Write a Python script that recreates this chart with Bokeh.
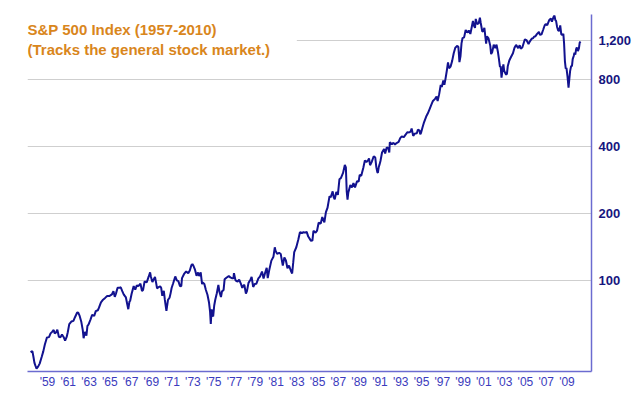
from bokeh.plotting import figure
from bokeh.models import FixedTicker, BoxAnnotation, Label, Range1d
from bokeh.embed import file_html
from bokeh.resources import INLINE

# S&P 500 monthly-ish closes (decimal year, index value)
years = [
    1957.37, 1957.55, 1957.65, 1957.75, 1957.85, 1957.95,
    1958.10, 1958.25, 1958.45, 1958.60, 1958.75, 1958.95,
    1959.15, 1959.30, 1959.45, 1959.60, 1959.70, 1959.85, 1959.95,
    1960.10, 1960.25, 1960.40, 1960.55, 1960.70, 1960.85, 1960.95,
    1961.10, 1961.30, 1961.50, 1961.65, 1961.85, 1961.95,
    1962.10, 1962.25, 1962.40, 1962.48, 1962.60, 1962.75, 1962.85, 1962.95,
    1963.15, 1963.30, 1963.50, 1963.65, 1963.85, 1963.95,
    1964.15, 1964.35, 1964.55, 1964.75, 1964.95,
    1965.20, 1965.35, 1965.48, 1965.60, 1965.75, 1965.95,
    1966.05, 1966.20, 1966.35, 1966.55, 1966.70, 1966.78, 1966.90, 1966.95,
    1967.10, 1967.30, 1967.45, 1967.60, 1967.75, 1967.95,
    1968.10, 1968.20, 1968.35, 1968.55, 1968.75, 1968.88, 1968.95,
    1969.10, 1969.35, 1969.45, 1969.55, 1969.70, 1969.85, 1969.95,
    1970.05, 1970.20, 1970.30, 1970.38, 1970.45, 1970.60, 1970.75, 1970.85, 1970.95,
    1971.10, 1971.30, 1971.45, 1971.60, 1971.75, 1971.88, 1971.95,
    1972.15, 1972.35, 1972.55, 1972.70, 1972.85, 1972.95,
    1973.05, 1973.20, 1973.35, 1973.50, 1973.60, 1973.75, 1973.88, 1973.95,
    1974.10, 1974.25, 1974.40, 1974.55, 1974.65, 1974.72, 1974.80, 1974.88, 1974.95,
    1975.05, 1975.15, 1975.30, 1975.45, 1975.55, 1975.70, 1975.80, 1975.95,
    1976.05, 1976.25, 1976.45, 1976.60, 1976.75, 1976.90, 1976.95,
    1977.10, 1977.30, 1977.45, 1977.60, 1977.75, 1977.88, 1977.95,
    1978.10, 1978.20, 1978.35, 1978.55, 1978.65, 1978.80, 1978.95,
    1979.10, 1979.30, 1979.45, 1979.65, 1979.80, 1979.95,
    1980.10, 1980.20, 1980.35, 1980.55, 1980.75, 1980.88, 1980.95,
    1981.10, 1981.30, 1981.45, 1981.65, 1981.80, 1981.95,
    1982.10, 1982.25, 1982.45, 1982.55, 1982.65, 1982.75, 1982.95,
    1983.15, 1983.30, 1983.50, 1983.65, 1983.80, 1983.95,
    1984.10, 1984.35, 1984.50, 1984.60, 1984.80, 1984.95,
    1985.10, 1985.30, 1985.45, 1985.65, 1985.80, 1985.95,
    1986.15, 1986.25, 1986.45, 1986.55, 1986.65, 1986.80, 1986.95,
    1987.10, 1987.25, 1987.45, 1987.62, 1987.72, 1987.80, 1987.88, 1987.95,
    1988.15, 1988.30, 1988.45, 1988.60, 1988.80, 1988.95,
    1989.05, 1989.20, 1989.40, 1989.55, 1989.70, 1989.85, 1989.95,
    1990.05, 1990.20, 1990.40, 1990.55, 1990.65, 1990.75, 1990.80, 1990.88, 1990.95,
    1991.05, 1991.20, 1991.40, 1991.50, 1991.65, 1991.80, 1991.90, 1991.95,
    1992.15, 1992.30, 1992.45, 1992.60, 1992.80, 1992.95,
    1993.10, 1993.30, 1993.45, 1993.65, 1993.80, 1993.95,
    1994.05, 1994.20, 1994.35, 1994.55, 1994.65, 1994.80, 1994.88, 1994.95,
    1995.10, 1995.25, 1995.45, 1995.60, 1995.75, 1995.95,
    1996.10, 1996.30, 1996.45, 1996.55, 1996.70, 1996.85, 1996.95,
    1997.10, 1997.20, 1997.30, 1997.45, 1997.55, 1997.65, 1997.80, 1997.95,
    1998.10, 1998.25, 1998.45, 1998.55, 1998.65, 1998.75, 1998.85, 1998.95,
    1999.10, 1999.25, 1999.40, 1999.55, 1999.70, 1999.85, 1999.95,
    2000.05, 2000.15, 2000.22, 2000.35, 2000.50, 2000.62, 2000.70, 2000.85, 2000.95,
    2001.05, 2001.15, 2001.22, 2001.30, 2001.45, 2001.62, 2001.70, 2001.80, 2001.95,
    2002.10, 2002.22, 2002.35, 2002.45, 2002.55, 2002.62, 2002.70, 2002.80, 2002.88, 2002.95,
    2003.05, 2003.15, 2003.22, 2003.30, 2003.45, 2003.60, 2003.80, 2003.95,
    2004.10, 2004.30, 2004.45, 2004.55, 2004.70, 2004.85, 2004.95,
    2005.10, 2005.30, 2005.45, 2005.60, 2005.75, 2005.85, 2005.95,
    2006.10, 2006.30, 2006.40, 2006.55, 2006.70, 2006.85, 2006.95,
    2007.10, 2007.30, 2007.45, 2007.55, 2007.70, 2007.80, 2007.88, 2007.95,
    2008.05, 2008.15, 2008.25, 2008.35, 2008.45, 2008.55, 2008.65, 2008.72, 2008.80, 2008.88, 2008.95,
    2009.05, 2009.15, 2009.22, 2009.30, 2009.40, 2009.48, 2009.55, 2009.65, 2009.72, 2009.80, 2009.88, 2009.95,
    2010.05, 2010.15, 2010.22, 2010.30,
]
index_values = [
    47.4, 47.9, 45.2, 42.4, 41.1, 40.0,
    40.8, 42.1, 45.2, 47.8, 51.3, 55.2,
    55.4, 57.6, 58.5, 59.7, 57.5, 58.3, 59.9,
    55.6, 55.3, 56.9, 55.5, 53.5, 55.5, 58.1,
    63.4, 65.1, 65.6, 68.1, 71.3, 71.6,
    69.0, 65.2, 59.6, 54.8, 58.5, 56.3, 62.3, 63.1,
    66.6, 69.8, 69.1, 72.5, 73.2, 75.0,
    79.5, 81.7, 83.2, 84.9, 84.8,
    86.2, 89.1, 84.1, 87.2, 92.4, 92.4,
    92.9, 89.2, 86.1, 83.6, 77.1, 74.0, 80.5, 80.3,
    86.8, 94.0, 90.6, 94.8, 93.9, 96.5,
    89.4, 90.2, 98.7, 97.7, 103.9, 108.4, 103.9,
    98.1, 103.5, 97.7, 91.8, 93.1, 93.8, 92.1,
    85.0, 89.6, 81.5, 76.6, 72.7, 81.5, 83.3, 87.2, 92.2,
    96.8, 103.9, 99.7, 99.0, 94.2, 93.9, 102.1,
    106.6, 109.5, 107.4, 110.6, 116.7, 118.1,
    116.0, 111.5, 104.7, 108.2, 104.3, 108.3, 95.9, 97.6,
    96.2, 90.3, 86.0, 79.3, 72.2, 63.5, 73.9, 69.9, 68.6,
    76.9, 81.6, 87.3, 95.2, 88.8, 83.9, 89.0, 90.2,
    100.9, 102.8, 104.3, 102.9, 102.1, 102.1, 107.5,
    99.8, 98.4, 100.5, 96.8, 92.3, 94.8, 95.1,
    87.0, 89.2, 97.2, 100.7, 103.3, 93.2, 96.1,
    96.3, 101.8, 103.8, 109.3, 101.8, 107.9,
    113.7, 102.1, 111.2, 122.4, 127.5, 140.5, 135.8,
    131.3, 132.8, 131.2, 116.2, 126.4, 122.6,
    113.1, 116.4, 109.6, 107.1, 119.5, 133.7, 140.6,
    152.9, 164.4, 163.0, 164.4, 163.6, 164.9,
    157.1, 150.6, 150.7, 166.7, 163.6, 167.2,
    181.2, 179.8, 192.4, 182.1, 202.2, 211.3,
    238.9, 235.5, 250.8, 236.1, 231.3, 249.2, 242.2,
    284.2, 288.4, 304.0, 329.8, 321.8, 251.8, 230.3, 247.1,
    267.8, 261.3, 273.5, 261.5, 279.0, 277.7,
    297.5, 294.9, 320.5, 346.1, 340.4, 346.0, 353.4,
    329.1, 339.9, 361.2, 356.2, 322.6, 306.1, 304.0, 322.2, 330.2,
    343.9, 375.2, 389.8, 371.2, 395.4, 392.5, 375.2, 417.1,
    408.8, 414.9, 408.1, 414.0, 418.7, 435.7,
    443.4, 440.2, 450.5, 463.6, 461.8, 466.5,
    481.6, 445.8, 456.5, 458.3, 475.5, 472.4, 453.7, 459.3,
    487.4, 514.7, 544.8, 561.9, 584.4, 615.9,
    640.4, 654.2, 670.6, 639.9, 687.3, 757.0, 740.7,
    790.8, 757.1, 801.3, 885.1, 954.3, 899.5, 914.6, 970.4,
    1049.3, 1111.8, 1133.8, 1120.7, 957.3, 1017.0, 1163.6, 1229.2,
    1238.3, 1335.2, 1301.8, 1328.7, 1282.7, 1389.0, 1469.3,
    1394.5, 1366.4, 1498.6, 1420.6, 1430.8, 1517.7, 1436.5, 1315.2, 1320.3,
    1366.0, 1239.9, 1160.3, 1249.5, 1224.4, 1133.6, 1040.9, 1059.8, 1148.1,
    1106.7, 1147.4, 1067.1, 989.8, 911.6, 916.1, 815.3, 885.8, 936.3, 879.8,
    855.7, 841.2, 848.2, 916.9, 974.5, 1008.0, 1050.7, 1111.9,
    1144.9, 1107.3, 1140.8, 1101.7, 1114.6, 1173.8, 1211.9,
    1203.6, 1156.8, 1191.3, 1220.3, 1228.8, 1249.5, 1248.3,
    1280.1, 1310.6, 1270.1, 1276.7, 1335.9, 1400.6, 1418.3,
    1406.8, 1482.4, 1503.4, 1455.3, 1526.8, 1549.4, 1481.1, 1468.4,
    1378.6, 1330.6, 1322.7, 1400.4, 1280.0, 1267.4, 1282.8, 1166.4, 968.8, 896.2, 903.3,
    825.9, 735.1, 797.9, 872.8, 919.1, 919.3, 987.5, 1020.6, 1057.1, 1036.2, 1095.6, 1115.1,
    1073.9, 1104.5, 1169.4, 1186.7,
]

tick_years = list(range(1959, 2010, 2))
tick_labels = ["'%02d" % (y % 100) for y in tick_years]
y_ticks = [100, 200, 400, 800, 1200]
y_tick_labels = ["100", "200", "400", "800", "1,200"]
title_lines = ["S&P 500 Index (1957-2010)", "(Tracks the general stock market.)"]

FONT = "Liberation Sans"

p = figure(
    frame_width=564, frame_height=357,
    min_border_left=27, min_border_top=14, min_border_right=40, min_border_bottom=8,
    y_axis_type="log", y_axis_location="right",
    x_range=Range1d(1957.08, 2011.36), y_range=Range1d(38.8, 1569),
    output_backend="svg", toolbar_location=None,
)
p.outline_line_color = None
p.background_fill_color = "white"
p.border_fill_color = "white"

# grid
p.xgrid.visible = False
p.ygrid.grid_line_color = "#cfcfcf"
p.ygrid.grid_line_width = 1

# x axis
xa = p.xaxis[0]
xa.ticker = FixedTicker(ticks=tick_years)
xa.major_label_overrides = {y: l for y, l in zip(tick_years, tick_labels)}
xa.major_tick_line_color = None
xa.minor_tick_line_color = None
xa.major_tick_out = 0
xa.major_tick_in = 0
xa.minor_tick_out = 0
xa.axis_line_color = "#6b6bd0"
xa.axis_line_width = 1.5
xa.major_label_text_font = FONT
xa.major_label_text_font_size = "12px"
xa.major_label_text_color = "#3b3bbd"
xa.major_label_standoff = 3

# y axis
ya = p.yaxis[0]
ya.ticker = FixedTicker(ticks=y_ticks)
ya.major_label_overrides = {v: l for v, l in zip(y_ticks, y_tick_labels)}
ya.major_tick_line_color = None
ya.minor_tick_line_color = None
ya.major_tick_out = 0
ya.major_tick_in = 0
ya.minor_tick_out = 0
ya.axis_line_color = "#6b6bd0"
ya.axis_line_width = 1.5
ya.major_label_text_font = FONT
ya.major_label_text_font_size = "13px"
ya.major_label_text_font_style = "bold"
ya.major_label_text_color = "#161680"
ya.major_label_standoff = 7

p.line(years, index_values, line_color="#12128f", line_width=2)

# white box behind the title (hides the gridline there)
p.add_layout(BoxAnnotation(left=1957.08, right=1983.0, bottom=1058, top=1569,
                           fill_color="white", fill_alpha=1.0, line_color=None))

for txt, yv in zip(title_lines, [1339, 1091]):
    p.add_layout(Label(x=1957.08, y=yv, text=txt, text_font=FONT, text_font_size="15px",
                       text_font_style="bold", text_color="#d9861c",
                       text_align="left", text_baseline="alphabetic"))

open("out.html", "w").write(file_html(p, INLINE))
